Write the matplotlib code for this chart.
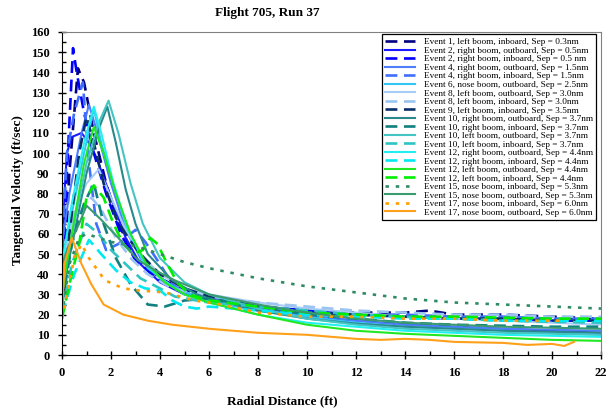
import matplotlib
matplotlib.use("Agg")
import matplotlib.pyplot as plt
from matplotlib.ticker import MultipleLocator

plt.rcParams['font.family'] = 'Liberation Serif'

# ── series (radial distance ft, tangential velocity ft/s) ──
e01_li_x = [0, 0.3, 0.65, 0.9, 1.3, 1.8, 2.3, 3, 4, 5, 6, 8, 10, 12, 14, 15, 16, 18, 20, 22]
e01_li_y = [20, 90, 142, 135, 110, 85, 65, 48, 38, 32, 28, 24, 22, 21, 21, 22, 20, 20, 19, 18]

e02_ro_x = [0, 0.1, 0.2, 0.4, 0.8, 1.1, 1.4, 2, 2.6, 3.2, 4, 5, 6, 8, 10, 12, 14, 16, 18, 20, 22]
e02_ro_y = [30, 80, 100, 108, 110, 105, 98, 78, 58, 45, 36, 30, 27, 22, 19, 17, 15, 14, 13, 12, 11]

e02_ri_x = [0, 0.2, 0.45, 0.6, 0.9, 1.3, 1.8, 2.4, 3, 4, 5, 6, 8, 10, 12, 14, 16, 18, 20, 22]
e02_ri_y = [30, 90, 152, 140, 120, 100, 80, 60, 47, 37, 31, 28, 24, 22, 20, 19, 18, 18, 17, 17]

e04_ro_x = [0, 0.3, 0.8, 1.1, 1.4, 2, 2.6, 3.2, 4, 5, 6, 8, 10, 12, 14, 16, 18, 20, 22]
e04_ro_y = [55, 80, 110, 124, 112, 85, 62, 48, 38, 31, 28, 23, 20, 17, 15, 14, 13, 12.5, 12]

e04_ri_x = [0, 0.2, 0.5, 0.85, 1.1, 1.4, 1.8, 2.3, 3, 3.4, 4, 4.5, 5, 6, 8, 10, 12, 14, 16, 18, 20, 22]
e04_ri_y = [50, 100, 120, 135, 95, 65, 52, 55, 62, 56, 45, 35, 31, 27, 24, 22, 20, 20, 19, 19, 18, 18]

e06_no_x = [0, 0.4, 0.9, 1.3, 1.6, 2.2, 2.8, 3.5, 4.5, 5.5, 6, 8, 10, 12, 14, 16, 18, 20, 22]
e06_no_y = [40, 70, 100, 122, 105, 80, 58, 43, 34, 29, 27, 22, 19, 16, 14, 13, 12, 11, 10]

e08_lo_x = [0, 0.5, 1.0, 1.5, 2, 2.6, 3.2, 4, 5, 6, 8, 10, 12, 14, 16, 18, 20, 22]
e08_lo_y = [45, 70, 85, 92, 78, 62, 50, 40, 33, 30, 26, 23, 21, 19, 18, 17, 16, 15]

e08_li_x = [0, 0.3, 0.7, 1.2, 1.6, 2.2, 2.8, 3.5, 4.5, 6, 8, 10, 12, 14, 16, 18, 20, 22]
e08_li_y = [25, 50, 70, 78, 72, 58, 48, 40, 33, 29, 26, 24, 22, 21, 20, 20, 19, 19]

e09_li_x = [0, 0.3, 0.7, 1.0, 1.3, 1.7, 2.2, 2.7, 3.2, 4, 5, 6, 8, 10, 12, 14, 16, 18, 20, 22]
e09_li_y = [20, 60, 100, 118, 105, 85, 68, 58, 50, 40, 33, 29, 24, 21, 20, 19, 18, 18, 17, 17]

e10_ro_x = [0, 0.5, 1.0, 1.5, 1.85, 2.2, 2.6, 3, 3.5, 4.5, 5.5, 6, 8, 10, 12, 14, 16, 18, 20, 22]
e10_ro_y = [30, 60, 90, 112, 123, 105, 82, 65, 50, 37, 30, 28, 22, 18, 15.5, 14, 13, 12, 11.5, 11]

e10_ri_x = [0, 0.4, 0.9, 1.3, 1.7, 2.2, 2.8, 3.5, 4.2, 5, 6, 8, 10, 12, 14, 16, 18, 20, 22]
e10_ri_y = [25, 55, 75, 85, 65, 48, 35, 25, 24, 27, 28, 24, 20, 18, 16, 15, 14.5, 14, 14]

e10_lo_x = [0, 0.5, 1.0, 1.5, 1.9, 2.3, 2.8, 3.3, 4, 5, 6, 8, 10, 12, 14, 16, 18, 20, 22]
e10_lo_y = [35, 65, 95, 115, 126, 110, 85, 65, 48, 36, 30, 23, 18, 15, 13, 12, 11, 10.5, 10]

e10_li_x = [0, 0.4, 1.0, 1.5, 2.0, 2.6, 3.2, 4, 4.6, 5.5, 6, 8, 10, 12, 14, 16, 18, 20, 22]
e10_li_y = [20, 45, 65, 60, 52, 45, 38, 33, 29, 27, 26, 24, 22, 20, 19, 18, 17, 16.5, 16]

e12_ro_x = [0, 0.4, 0.9, 1.3, 1.6, 2.1, 2.7, 3.3, 4, 5, 6, 8, 10, 12, 14, 16, 18, 20, 22]
e12_ro_y = [45, 75, 105, 123, 110, 85, 62, 47, 38, 30, 26, 20, 16, 14, 12, 11, 10, 9.5, 9]

e12_ri_x = [0, 0.5, 1.1, 1.6, 2.2, 2.8, 3.4, 4, 4.5, 5, 5.5, 6, 8, 10, 12, 14, 16, 18, 20, 22]
e12_ri_y = [20, 40, 57, 50, 42, 36, 33, 32, 27, 24, 23, 24, 22, 20, 19, 18, 18, 17, 17, 17]

e12_lo_x = [0, 0.4, 0.9, 1.3, 1.7, 2.2, 2.8, 3.4, 4.2, 5, 6, 8, 10, 12, 14, 16, 18, 20, 22]
e12_lo_y = [30, 60, 95, 113, 100, 80, 60, 46, 36, 30, 26, 20, 15, 12, 10.5, 9.5, 8.5, 7.5, 7]

e12_li_x = [0, 0.3, 0.7, 1.0, 1.3, 1.7, 2.1, 2.5, 2.9, 3.3, 3.6, 3.9, 4.3, 4.7, 5.2, 6, 8, 10, 12, 14, 16, 18, 20, 22]
e12_li_y = [18, 35, 55, 78, 84, 78, 65, 55, 50, 52, 58, 55, 45, 36, 30, 27, 24, 21, 20, 19, 19, 18.5, 18, 18]

e15_ni_x = [0, 0.3, 0.7, 1.0, 1.5, 2, 3, 4, 5, 6, 8, 10, 12, 14, 16, 18, 20, 22]
e15_ni_y = [20, 45, 58, 60, 58, 56, 54, 50, 46, 43, 38, 34, 31, 28, 26, 25, 24, 23]

e15_no_x = [0, 0.3, 0.7, 1.0, 1.6, 2.3, 3.1, 3.8, 4.6, 6, 8, 10, 12, 14, 16, 18, 20, 22]
e15_no_y = [45, 55, 65, 74, 67, 58, 47, 42, 37, 30, 25, 21, 18, 16, 15, 14, 13.5, 13]

e17_ni_x = [0, 0.2, 0.5, 0.8, 1.1, 1.75, 2.5, 3.1, 4.2, 5.4, 6.5, 8, 10, 12, 14, 16, 18, 20, 20.5]
e17_ni_y = [18, 30, 48, 55, 48, 37, 33, 32, 31, 27, 25, 21, 19, 19, 18, 18, 17, 17, 17]

e17_no_x = [0, 0.1, 0.4, 0.8, 1.2, 1.7, 2.5, 3.5, 4.5, 6, 8, 10, 12, 13, 14, 15, 16, 18, 19, 20, 20.5, 20.9]
e17_no_y = [20, 45, 58, 45, 35, 25, 20, 17, 15, 13, 11, 10, 8, 7.5, 8, 7.5, 6.5, 6, 5, 5.5, 4.5, 6.5]

labels = [
    "Event 1, left boom, inboard, Sep = 0.3nm",
    "Event 2, right boom, outboard, Sep = 0.5nm",
    "Event 2, right boom, inboard, Sep = 0.5 nm",
    "Event 4, right boom, outboard, Sep = 1.5nm",
    "Event 4, right boom, inboard, Sep = 1.5nm",
    "Event 6, nose boom, outboard, Sep = 2.5nm",
    "Event 8, left boom, outboard, Sep = 3.0nm",
    "Event 8, left boom, inboard, Sep = 3.0nm",
    "Event 9, left boom, inboard, Sep = 3.5nm",
    "Event 10, right boom, outboard, Sep = 3.7nm",
    "Event 10, right boom, inboard, Sep = 3.7nm",
    "Event 10, left boom, outboard, Sep = 3.7nm",
    "Event 10, left boom, inboard, Sep = 3.7nm",
    "Event 12, right boom, outboard, Sep = 4.4nm",
    "Event 12, right boom, inboard, Sep = 4.4nm",
    "Event 12, left boom, outboard, Sep = 4.4nm",
    "Event 12, left boom, inboard, Sep = 4.4nm",
    "Event 15, nose boom, inboard, Sep = 5.3nm",
    "Event 15, nose boom, outboard, Sep = 5.3nm",
    "Event 17, nose boom, inboard, Sep = 6.0nm",
    "Event 17, nose boom, outboard, Sep = 6.0nm",
]

series = [
    (e01_li_x, e01_li_y), (e02_ro_x, e02_ro_y), (e02_ri_x, e02_ri_y),
    (e04_ro_x, e04_ro_y), (e04_ri_x, e04_ri_y), (e06_no_x, e06_no_y),
    (e08_lo_x, e08_lo_y), (e08_li_x, e08_li_y), (e09_li_x, e09_li_y),
    (e10_ro_x, e10_ro_y), (e10_ri_x, e10_ri_y), (e10_lo_x, e10_lo_y),
    (e10_li_x, e10_li_y), (e12_ro_x, e12_ro_y), (e12_ri_x, e12_ri_y),
    (e12_lo_x, e12_lo_y), (e12_li_x, e12_li_y), (e15_ni_x, e15_ni_y),
    (e15_no_x, e15_no_y), (e17_ni_x, e17_ni_y), (e17_no_x, e17_no_y),
]

# colour, style ('s' solid, 'd' dashed, 'o' dotted)
styles = [
    ('#000080', 'd'), ('#1a1aff', 's'), ('#0000ff', 'd'),
    ('#4f7dff', 's'), ('#3f6fff', 'd'), ('#33c6f4', 's'),
    ('#a6cdf5', 's'), ('#9cc4f2', 'd'), ('#0a2f66', 'd'),
    ('#2a8a8a', 's'), ('#108080', 'd'), ('#45c4c4', 's'),
    ('#2ec4c4', 'd'), ('#22f0f0', 's'), ('#00e8f0', 'd'),
    ('#22e822', 's'), ('#00ee00', 'd'), ('#2e8b62', 'o'),
    ('#3a9a70', 's'), ('#ff9d00', 'o'), ('#ffa01a', 's'),
]

fig = plt.figure(figsize=(6.14, 4.09), dpi=100)
ax = fig.add_axes([62 / 614, 1 - 355 / 409, 539 / 614, 323 / 409])

for (x, y), lab, (col, st) in zip(series, labels, styles):
    if st == 's':
        ax.plot(x, y, color=col, lw=1.5, label=lab)
    elif st == 'd':
        ax.plot(x, y, color=col, lw=1.9, dashes=(4.5, 2.5), label=lab)
    else:
        ax.plot(x, y, color=col, lw=1.9, dashes=(1.3, 2.6), label=lab)

ax.set_xlim(0, 22)
ax.set_ylim(0, 160)
ax.xaxis.set_major_locator(MultipleLocator(2))
ax.xaxis.set_minor_locator(MultipleLocator(1))
ax.yaxis.set_major_locator(MultipleLocator(10))
ax.yaxis.set_minor_locator(MultipleLocator(5))
ax.tick_params(which='major', direction='inout', length=6, width=1, labelsize=9, pad=6)
ax.tick_params(which='minor', direction='in', length=3, width=1)
ax.tick_params(top=False, right=False, which='both')
for lab in ax.get_xticklabels() + ax.get_yticklabels():
    lab.set_fontweight('bold')
ax.spines['top'].set_color('#808080')
ax.spines['right'].set_color('#808080')

fig.text(267 / 614, 1 - 13 / 409, "Flight 705, Run 37", ha='center', va='center',
         fontsize=9.5, fontweight='bold')
fig.text(282 / 614, 1 - 401 / 409, "Radial Distance (ft)", ha='center', va='center',
         fontsize=9.5, fontweight='bold')
fig.text(18 / 614, 1 - 190 / 409, "Tangential Velocity (ft/sec)", ha='center', va='center',
         rotation=90, fontsize=9.5, fontweight='bold')

leg = ax.legend(loc='upper right', bbox_to_anchor=(0.995, 0.999), borderaxespad=0.2,
                fontsize=6.7, labelspacing=0.0, handlelength=3.2, handletextpad=0.9,
                borderpad=0.4, fancybox=False, framealpha=1, edgecolor='black')
leg.get_frame().set_linewidth(0.9)

fig.savefig('out.png', dpi=100)
